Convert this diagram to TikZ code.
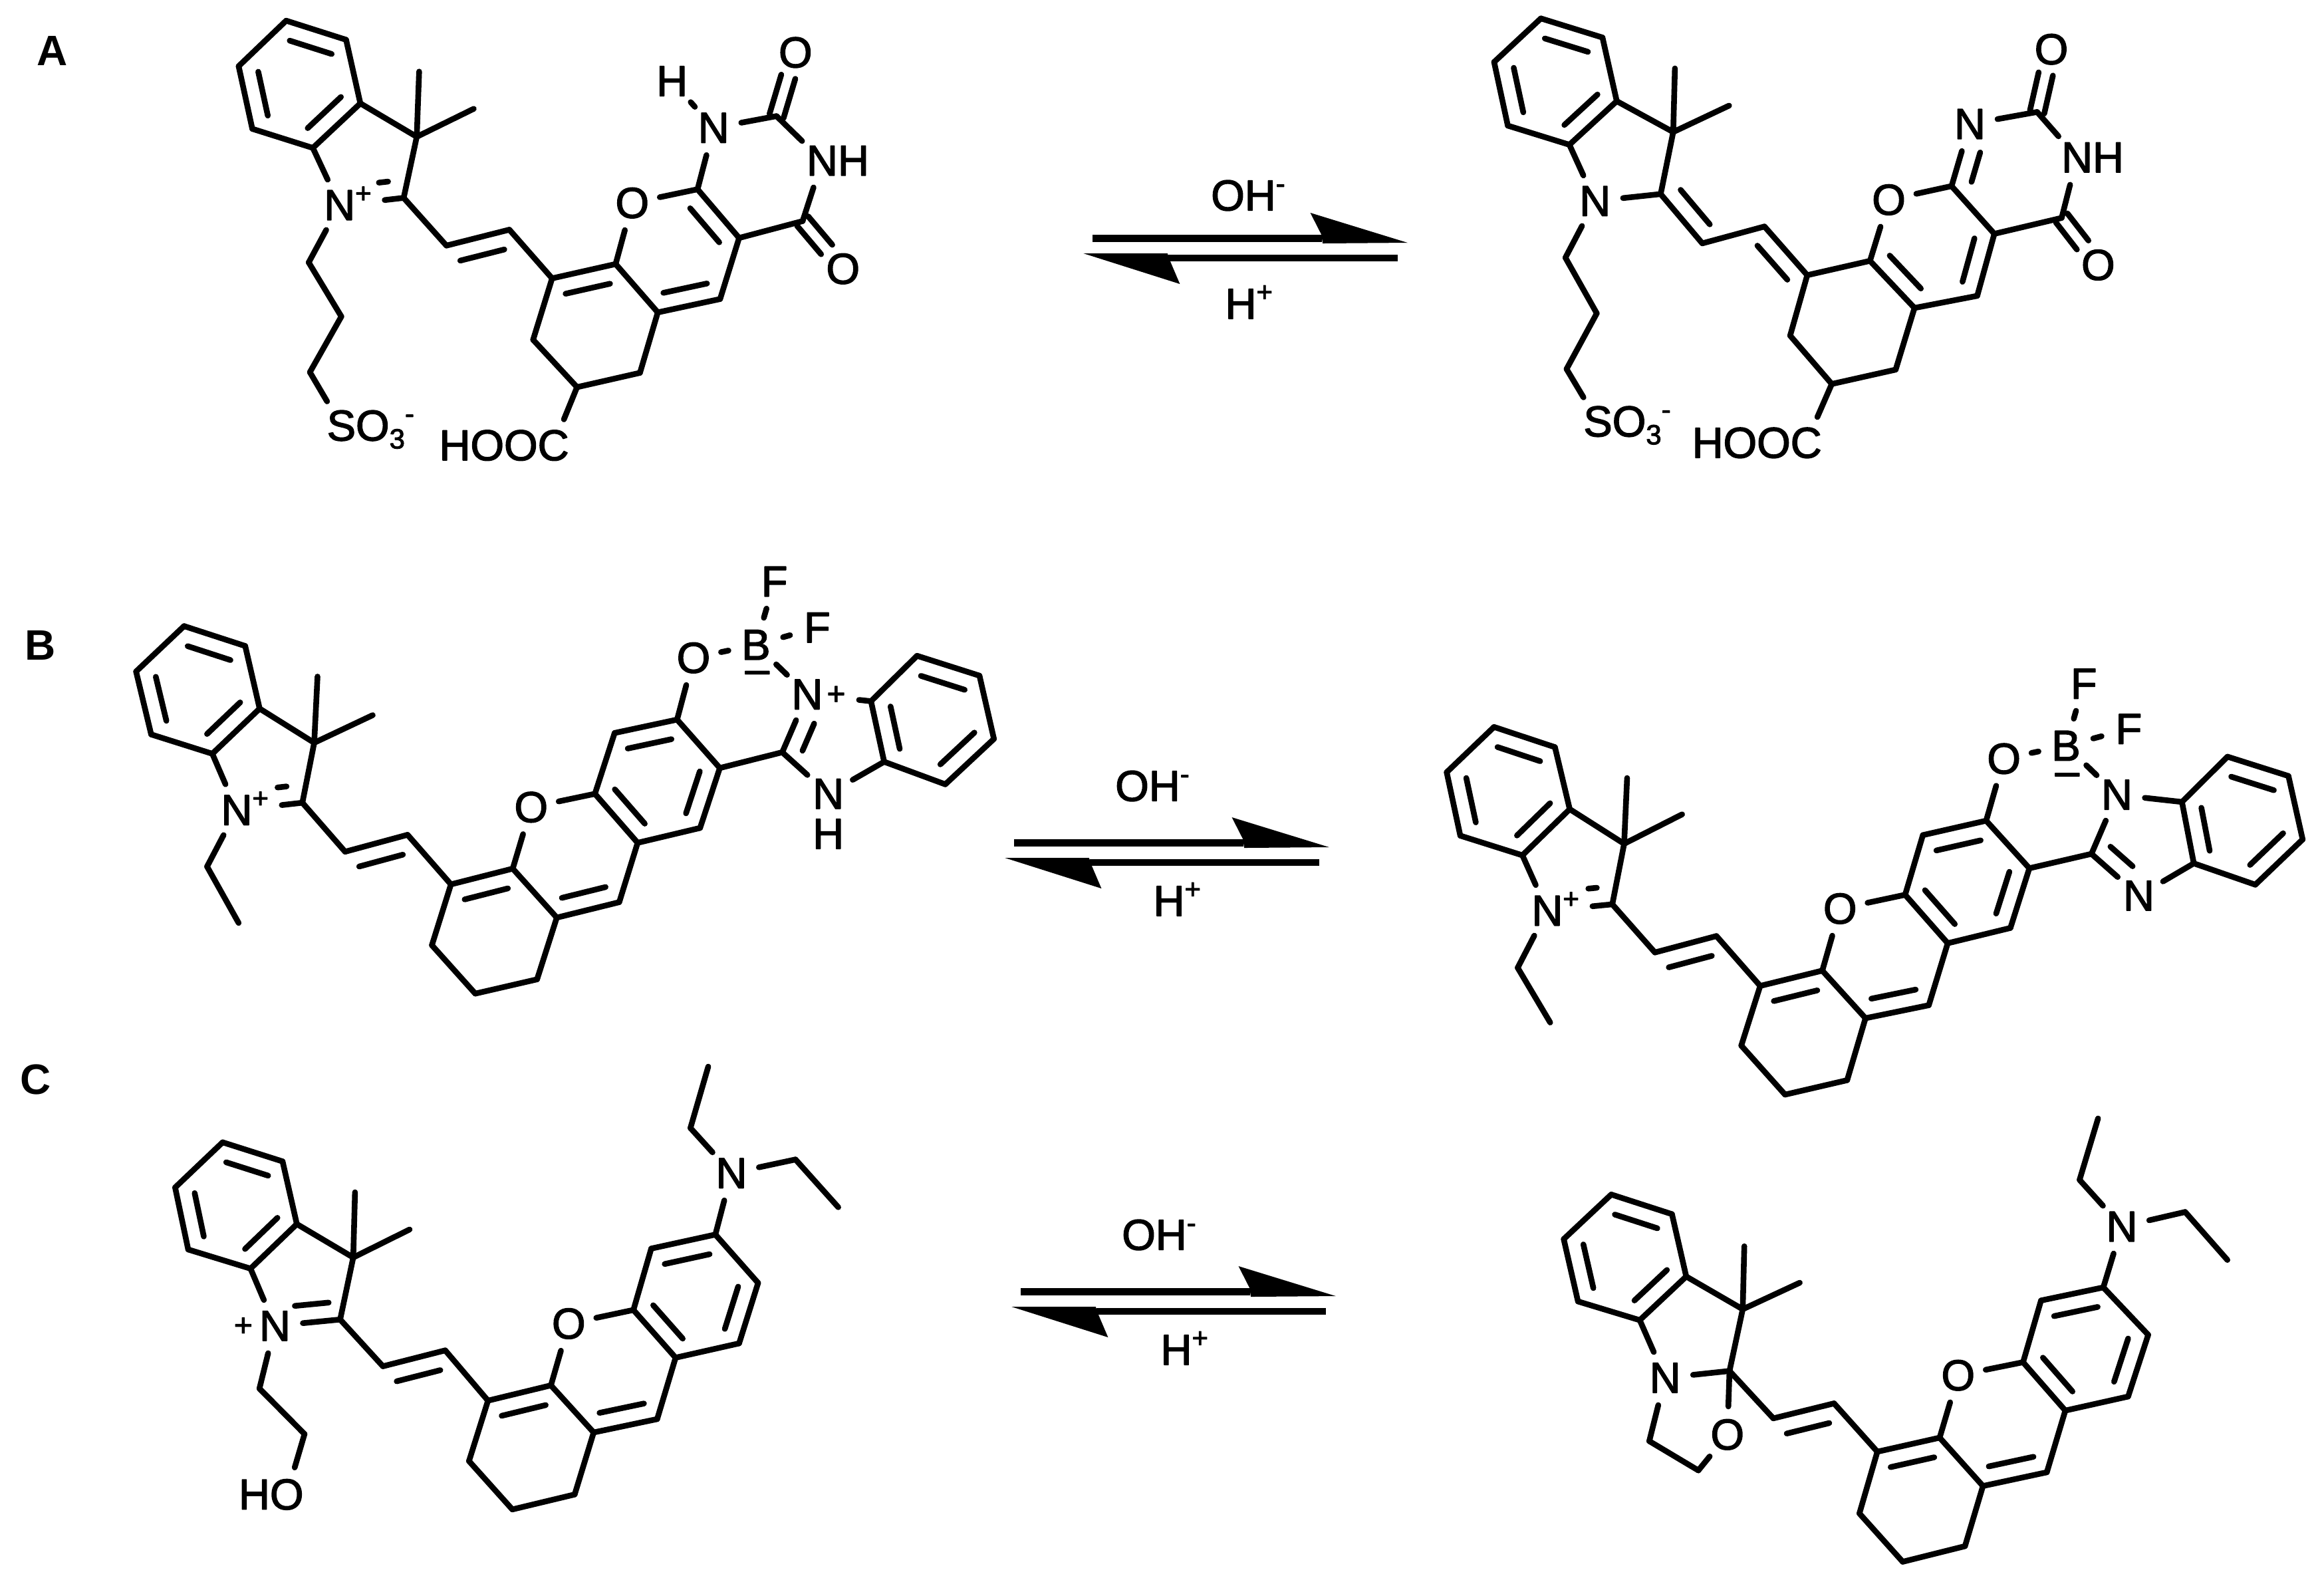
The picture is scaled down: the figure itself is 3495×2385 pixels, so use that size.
\documentclass[tikz,border=0pt]{standalone}
\usepackage{fontspec}
\setmainfont{Liberation Sans}
\newfontfamily\atomfam[FakeBold=2.2]{Liberation Sans}
\usetikzlibrary{calc}
\newcommand\atomfont{\atomfam\fontsize{32.5pt}{32.5pt}\selectfont}
\newcommand\chemsub[1]{\raisebox{-6pt}{\fontsize{21pt}{21pt}\selectfont #1}}
\newcommand\chemsup[1]{\raisebox{13pt}{\fontsize{21pt}{21pt}\selectfont #1}}
\newcommand\chempos{\rlap{\smash{\chemsup{+}}}}
\newcommand\sulfo{\rlap{\smash{O\chemsub{3}\chemsup{-}}}}
\newcommand\bigplus{\raisebox{3.5pt}{\fontsize{24pt}{24pt}\selectfont +}}
\newcommand\pts[2]{\foreach \n/\px/\py in {#2} {\coordinate (#1\n) at (\px,\py);}}
\newcommand\bonds[2]{\foreach \a/\b in {#2} {\draw (#1\a) -- (#1\b);}}
\newcommand\dbl[3][]{\draw[#1] ($(#2.center)!.15!(#3.center)!13.5pt!90:(#3.center)$) -- ($(#3.center)!.15!(#2.center)!13.5pt!-90:(#2.center)$);}
\newcommand\dsym[2]{%
  \draw[shorten >=19pt] ($(#1.center)!5.5pt!90:(#2.center)$) -- ($(#2.center)!5.5pt!-90:(#1.center)$);
  \draw[shorten >=19pt] ($(#1.center)!5.5pt!-90:(#2.center)$) -- ($(#2.center)!5.5pt!90:(#1.center)$);}
\newcommand\eqarrows[7]{%
  \begin{scope}[shift={(#2,#3)},x=.1977pt,y=-.1667pt]
    \coordinate (#1s1) at (190,442); \coordinate (#1e1) at (1062,442);
    \coordinate (#1s2) at (1350,530); \coordinate (#1e2) at (478,530);
    \draw[line width=5.5pt,line cap=butt] (#1s1) -- (#1e1);
    \draw[line width=5pt,line cap=butt] (#1s2) -- (#1e2);
    \fill (1018,327) -- (1388,462) -- (1065,465) -- (1060,425) -- cycle;
    \fill (155,510) -- (475,510) -- (485,545) -- (522,648) -- cycle;
  \end{scope}
  \node[plain] (#1oh) at (#4,#5) {OH\rlap{\smash{\chemsup{-}}}};
  \node[plain] (#1h) at (#6,#7) {H\chempos};}
\tikzset{
  atom/.style={circle,minimum size=38pt,inner sep=0pt,font=\atomfont},
  plain/.style={inner sep=0pt,font=\atomfont},
  panelmark/.style={inner sep=0pt,font=\fontsize{32pt}{32pt}\selectfont\bfseries}
}
\begin{document}
\begin{tikzpicture}[x=.5pt,y=-.5pt,line width=4.3pt,line cap=round,line join=round]
\fill[white] (0,0) rectangle (3495,2385);
\useasboundingbox (0,0) rectangle (3495,2385);

\node[panelmark] (markA) at (79,76) {A};
\node[panelmark] (markB) at (61,970) {B};
\node[panelmark] (markC) at (54,1623) {C};

\eqarrows{eqA}{1568}{211}{1870}{294}{1866}{457}
\eqarrows{eqB}{1450}{1120}{1726}{1182}{1758}{1355}
\eqarrows{eqC}{1460}{1795}{1736}{1857}{1769}{2030}

% ---------- A left
\begin{scope}[x=.4464pt,y=-.2392pt]
\pts{A}{b1/482/65,b2/583/125,b3/607/325,b4/527/465,b5/425/405,b6/402/208,k3/702/430,m1/706/225,m2/798/342,k2/680/622,c1/520/825,c2/575/995,c3/522/1170,v1/752/772,v2/858/722,r1/930/875,r2/1037/830,r3/1108/982,r4/1078/1172,r5/972/1217,r6/898/1068,p1/1175/595,p2/1245/748,p3/1213/940,q1/1308/365,q2/1352/695}
\node[atom] (AN) at (572,645) {N\chempos};
\node[atom] (AO) at (1065,638) {O};
\node[atom] (AM) at (1202,402) {N};
\node[atom] (AH) at (1132,255) {H};
\node[atom] (AP) at (1340,165) {O};
\node[atom] (AQ) at (1385,505) {N\rlap{H}};
\node[atom] (AR) at (1420,845) {O};
\node[atom] (AS) at (575,1338) {S\sulfo};
\node[atom] (AC) at (932,1400) {\llap{HOO}C};
\bonds{A}{b1/b2,b2/b3,b3/b4,b4/b5,b5/b6,b6/b1,b3/k3,k3/m1,k3/m2,k3/k2,b4/N,N/c1,c1/c2,c2/c3,c3/S,k2/v1,v1/v2,v2/r1,r1/r2,r2/r3,r3/r4,r4/r5,r5/r6,r6/r1,r2/O,O/p1,p1/p2,p2/p3,p3/r3,p1/M,M/H,M/q1,q1/Q,Q/q2,q2/p2,r5/C}
\draw[shorten >=13pt] (Ak2) -- (AN);
\dbl[shorten <=24pt,shorten >=3pt]{AN}{Ak2}
\dbl{Ab2}{Ab1} \dbl{Ab6}{Ab5} \dbl{Ab4}{Ab3} \dbl{Av2}{Av1} \dbl{Ar2}{Ar1} \dbl{Ar3}{Ap3} \dbl{Ap2}{Ap1}
\dsym{Aq1}{AP} \dsym{Aq2}{AR}
\end{scope}

% ---------- A right
\begin{scope}[shift={(2150,0)},x=.4289pt,y=-.2392pt]
\pts{D}{b1/195/58,b2/303/118,b3/328/318,b4/245/455,b5/137/395,b6/113/195,k3/427/415,m1/430/215,m2/525/332,k2/405/610,c1/238/810,c2/293/985,c3/240/1160,v1/478/765,v2/587/712,r1/662/865,r2/772/820,r3/850/968,r4/817/1162,r5/705/1207,r6/632/1055,p1/915/585,p2/990/735,p3/960/930,q1/1065/352,q2/1108/685}
\node[atom] (DN) at (290,632) {N};
\node[atom] (DO) at (805,628) {O};
\node[atom] (DM) at (947,390) {N};
\node[atom] (DP) at (1090,155) {O};
\node[atom] (DQ) at (1135,495) {N\rlap{H}};
\node[atom] (DR) at (1172,833) {O};
\node[atom] (DS) at (295,1325) {S\sulfo};
\node[atom] (DC) at (660,1392) {\llap{HOO}C};
\bonds{D}{b1/b2,b2/b3,b3/b4,b4/b5,b5/b6,b6/b1,b3/k3,k3/m1,k3/m2,k3/k2,b4/N,N/c1,c1/c2,c2/c3,c3/S,N/k2,k2/v1,v1/v2,v2/r1,r1/r2,r2/r3,r3/r4,r4/r5,r5/r6,r6/r1,r2/O,O/p1,p1/p2,p2/p3,p3/r3,p1/M,M/q1,q1/Q,Q/q2,q2/p2,r5/C}
\dbl{Db2}{Db1} \dbl{Db6}{Db5} \dbl{Db4}{Db3} \dbl{Dk2}{Dv1} \dbl{Dr1}{Dv2} \dbl{Dr2}{Dr3} \dbl{Dp3}{Dp2}
\dbl[shorten <=11pt]{DM}{Dp1}
\dsym{Dq1}{DP} \dsym{Dq2}{DR}
\end{scope}

% ---------- B left
\begin{scope}[shift={(0,850)},x=.4943pt,y=-.2232pt]
\pts{B}{b1/280/205,b2/373/272,b3/395/483,b4/323/635,b5/230/570,b6/207/358,k3/478/598,m1/483/375,m2/567/505,k2/460/800,e1/315/1015,e2/363/1205,v1/525/965,v2/620/908,r1/686/1075,r2/780/1022,r3/847/1187,r4/817/1395,r5/723/1443,r6/657/1280,s1/905/770,s2/935/565,s3/1030/520,s4/1095/683,s5/1065/885,s6/970/935,p3/942/1135,i/1190/630,a1/1325/458,a2/1395/305,a3/1490/372,a4/1512/585,a5/1438/738,a6/1345/662}
\node[atom] (BN) at (360,825) {N\chempos};
\node[atom] (BO) at (808,815) {O};
\node[atom] (BP) at (1055,312) {O};
\node[atom] (BX) at (1150,268) {B};
\node[atom] (BF) at (1178,55) {F};
\node[atom] (BG) at (1243,210) {F};
\node[plain] (BC) at (1152,378) {–};
\node[atom] (BM) at (1228,435) {N\rlap{\kern3pt\smash{\bigplus}}};
\node[atom] (BQ) at (1260,770) {N};
\node[plain] (BH) at (1260,905) {H};
\bonds{B}{b1/b2,b2/b3,b3/b4,b4/b5,b5/b6,b6/b1,b3/k3,k3/m1,k3/m2,k3/k2,b4/N,N/e1,e1/e2,k2/v1,v1/v2,v2/r1,r1/r2,r2/r3,r3/r4,r4/r5,r5/r6,r6/r1,r2/O,O/s1,s1/s2,s2/s3,s3/s4,s4/s5,s5/s6,s6/s1,r3/p3,p3/s6,s3/P,P/X,X/F,X/G,X/M,M/i,i/s4,i/Q,Q/a6,a1/a2,a2/a3,a3/a4,a4/a5,a5/a6,a6/a1}
\draw[shorten >=13pt] (Bk2) -- (BN);
\draw[shorten <=18pt] (BM) -- (Ba1);
\dbl[shorten <=25pt,shorten >=3pt]{BN}{Bk2}
\dbl{Bb2}{Bb1} \dbl{Bb6}{Bb5} \dbl{Bb4}{Bb3} \dbl{Bv2}{Bv1} \dbl{Br2}{Br1} \dbl{Br3}{Bp3}
\dbl{Bs1}{Bs6} \dbl{Bs3}{Bs2} \dbl{Bs5}{Bs4} \dbl{Ba3}{Ba2} \dbl{Ba5}{Ba4} \dbl{Ba1}{Ba6}
\dbl[shorten <=11pt]{BM}{Bi}
\end{scope}

% ---------- B right
\begin{scope}[shift={(2100,1000)},x=.4448pt,y=-.2168pt]
\pts{E}{b1/165/215,b2/268/285,b3/293/500,b4/213/660,b5/108/592,b6/85/372,k3/385/620,m1/390/392,m2/483/518,k2/365/830,e1/205/1050,e2/260/1240,v1/437/997,v2/541/940,r1/615/1113,r2/720/1060,r3/793/1225,r4/762/1440,r5/657/1490,r6/583/1320,s1/860/797,s2/890/590,s3/997/540,s4/1070/705,s5/1038/912,s6/932/965,p3/900/1180,i/1175/655,a1/1328/475,a2/1405/318,a3/1508/385,a4/1532/605,a5/1452/762,a6/1348/688}
\node[atom] (EN) at (255,852) {N\chempos};
\node[atom] (EO) at (750,845) {O};
\node[atom] (EP) at (1027,325) {O};
\node[atom] (EX) at (1132,280) {B};
\node[atom] (EF) at (1162,65) {F};
\node[atom] (EG) at (1238,222) {F};
\node[plain] (EC) at (1134,397) {–};
\node[atom] (EM) at (1218,450) {N};
\node[atom] (EQ) at (1255,800) {N};
\bonds{E}{b1/b2,b2/b3,b3/b4,b4/b5,b5/b6,b6/b1,b3/k3,k3/m1,k3/m2,k3/k2,b4/N,N/e1,e1/e2,k2/v1,v1/v2,v2/r1,r1/r2,r2/r3,r3/r4,r4/r5,r5/r6,r6/r1,r2/O,O/s1,s1/s2,s2/s3,s3/s4,s4/s5,s5/s6,s6/s1,r3/p3,p3/s6,s3/P,P/X,X/F,X/G,X/M,M/a1,M/i,i/s4,i/Q,Q/a6,a1/a2,a2/a3,a3/a4,a4/a5,a5/a6,a6/a1}
\draw[shorten >=13pt] (Ek2) -- (EN);
\dbl[shorten <=25pt,shorten >=3pt]{EN}{Ek2}
\dbl{Eb2}{Eb1} \dbl{Eb6}{Eb5} \dbl{Eb4}{Eb3} \dbl{Ev2}{Ev1} \dbl{Er2}{Er1} \dbl{Er3}{Ep3}
\dbl{Es1}{Es6} \dbl{Es3}{Es2} \dbl{Es5}{Es4} \dbl{Ea3}{Ea2} \dbl{Ea5}{Ea4} \dbl{Ea1}{Ea6}
\dbl[shorten >=11pt]{Ei}{EQ}
\end{scope}

% ---------- C left
\begin{scope}[shift={(0,1580)},x=.4464pt,y=-.2392pt]
\pts{C}{b1/375/288,b2/476/348,b3/500/545,b4/422/685,b5/317/625,b6/295/430,k3/595/650,m1/598/445,m2/690/562,k2/573/845,h1/437/1062,h2/513/1205,v1/645/992,v2/750/942,r1/822/1100,r2/928/1052,r3/1000/1200,r4/968/1395,r5/863/1442,r6/790/1290,s1/1067/815,s2/1097/622,s3/1205/578,s4/1277/730,s5/1245/920,s6/1138/965,p3/1107/1158,e1/1163/243,e2/1193/50,f1/1340/342,f2/1412/492}
\node[atom] (CN) at (463,865) {\llap{\smash{\bigplus}\kern5pt}N};
\node[atom] (CO) at (958,858) {O};
\node[atom] (CM) at (1232,385) {N};
\node[atom] (CH) at (483,1395) {\llap{H}O};
\bonds{C}{b1/b2,b2/b3,b3/b4,b4/b5,b5/b6,b6/b1,b3/k3,k3/m1,k3/m2,k3/k2,b4/N,N/k2,N/h1,h1/h2,h2/H,k2/v1,v1/v2,v2/r1,r1/r2,r2/r3,r3/r4,r4/r5,r5/r6,r6/r1,r2/O,O/s1,s1/s2,s2/s3,s3/s4,s4/s5,s5/s6,s6/s1,r3/p3,p3/s6,s3/M,M/e1,e1/e2,M/f1,f1/f2}
\dbl[shorten <=9pt]{CN}{Ck2}
\dbl{Cb2}{Cb1} \dbl{Cb6}{Cb5} \dbl{Cb4}{Cb3} \dbl{Cv2}{Cv1} \dbl{Cr2}{Cr1} \dbl{Cr3}{Cp3}
\dbl{Cs1}{Cs6} \dbl{Cs3}{Cs2} \dbl{Cs5}{Cs4}
\end{scope}

% ---------- C right
\begin{scope}[shift={(2250,1650)},x=.3970pt,y=-.2344pt]
\pts{F}{b1/218/312,b2/333/375,b3/360/575,b4/272/715,b5/155/655,b6/128/455,k3/467/680,m1/470/478,m2/575/595,k2/442/878,h1/290/1103,h2/383/1197,v1/525/1030,v2/640/982,r1/722/1137,r2/840/1092,r3/922/1247,r4/888/1440,r5/770/1490,r6/688/1335,s1/998/850,s2/1032/652,s3/1150/610,s4/1235/762,s5/1197/960,s6/1078/1005,p3/1043/1203,e1/1105/265,e2/1140/68,f1/1305/368,f2/1385/522}
\node[atom] (FN) at (320,900) {N};
\node[atom] (FP) at (438,1082) {O};
\node[atom] (FO) at (875,892) {O};
\node[atom] (FM) at (1185,415) {N};
\bonds{F}{b1/b2,b2/b3,b3/b4,b4/b5,b5/b6,b6/b1,b3/k3,k3/m1,k3/m2,k3/k2,b4/N,N/k2,k2/P,N/h1,h1/h2,h2/P,k2/v1,v1/v2,v2/r1,r1/r2,r2/r3,r3/r4,r4/r5,r5/r6,r6/r1,r2/O,O/s1,s1/s2,s2/s3,s3/s4,s4/s5,s5/s6,s6/s1,r3/p3,p3/s6,s3/M,M/e1,e1/e2,M/f1,f1/f2}
\dbl{Fb2}{Fb1} \dbl{Fb6}{Fb5} \dbl{Fb4}{Fb3} \dbl{Fv2}{Fv1} \dbl{Fr2}{Fr1} \dbl{Fr3}{Fp3}
\dbl{Fs1}{Fs6} \dbl{Fs3}{Fs2} \dbl{Fs5}{Fs4}
\end{scope}
\end{tikzpicture}
\end{document}
